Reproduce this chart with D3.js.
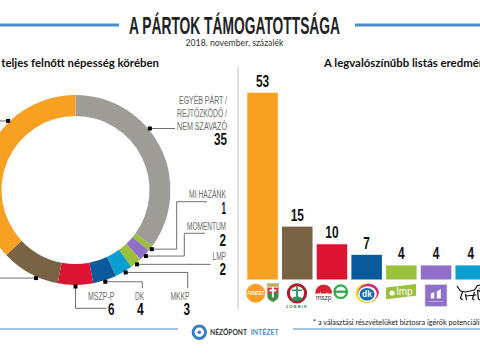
<!DOCTYPE html>
<html lang="hu">
<head>
<meta charset="utf-8">
<script src="https://cdnjs.cloudflare.com/ajax/libs/d3/7.8.5/d3.min.js"></script>
<style>
    html, body { margin: 0; padding: 0; background: #fff; overflow: hidden; }
    svg { display: block; }
    .cond { font-family: "Liberation Sans Narrow", "Liberation Sans", sans-serif; }
    .body { font-family: Lato, "Open Sans", sans-serif; }
</style>
</head>
<body>
<svg id="chart" width="480" height="360"></svg>
<script>
// donut: whole adult population
const donutParties = ["EGYÉB", "MI HAZÁNK", "MOMENTUM", "LMP", "MKKP", "DK", "MSZP-P", "JOBBIK", "FIDESZ"];
const donutValues = [35, 1, 2, 2, 3, 4, 6, 10, 37];
const donutColors = ["#9d9c96", "#9bc13c", "#8f6fc9", "#9bc13c", "#0a9ed1", "#0a5a9c", "#dc1432", "#7a6345", "#f7a021"];
// where on the circle (in percent) each leader starts
const leaderAt = [14, 35.5, 37, 39, 41.3, 45, 50, 56.7, 87.7];

// bars: likely list result
const barParties = ["FIDESZ", "JOBBIK", "MSZP-P", "DK", "LMP", "MOMENTUM", "MKKP"];
const barValues = [53, 15, 10, 7, 4, 4, 4];
const barColors = ["#f7a021", "#7a6345", "#dc1432", "#0a5a9c", "#9bc13c", "#8f6fc9", "#0a9ed1"];

const svg = d3.select("#chart");
const blue = "#4a8cc9";

// condensed text squeezed to a known width, the installed narrow font is wider than the original
function fitText(g, str, x, y, w, size, opts = {}) {
    let left = opts.anchor == "middle" ? x - w / 2 : x - w;
    return g.append("text")
        .attr("class", "cond")
        .attr("x", left)
        .attr("y", y)
        .attr("textLength", w)
        .attr("lengthAdjust", "spacingAndGlyphs")
        .attr("font-size", size)
        .attr("font-weight", opts.weight || "normal")
        .attr("fill", opts.fill || "#6a6a68")
        .text(str);
}

// header
svg.append("rect").attr("x", 0).attr("y", 23.5).attr("width", 119).attr("height", 3).attr("fill", blue);
svg.append("rect").attr("x", 355).attr("y", 23.5).attr("width", 125).attr("height", 3).attr("fill", blue);
fitText(svg, "A PÁRTOK TÁMOGATOTTSÁGA", 129 + 211, 33.5, 211, 23, {weight: "bold", fill: "#222"});
svg.append("text").attr("class", "body")
    .attr("x", 234.5).attr("y", 46).attr("text-anchor", "middle")
    .attr("font-size", 8.7).attr("fill", "#333")
    .text("2018. november, százalék");

svg.append("text").attr("class", "body")
    .attr("x", 159).attr("y", 67).attr("text-anchor", "end")
    .attr("font-size", 11.4).attr("font-weight", "bold").attr("fill", "#111")
    .text("A teljes felnőtt népesség körében");
svg.append("text").attr("class", "body")
    .attr("x", 324).attr("y", 67)
    .attr("font-size", 11.4).attr("font-weight", "bold").attr("fill", "#111")
    .text("A legvalószínűbb listás eredmény*");

svg.append("line").attr("x1", 238).attr("x2", 238).attr("y1", 67).attr("y2", 309)
    .attr("stroke", "#c4c4c4").attr("stroke-width", 1);

// donut
const cx = 75.5, cy = 190, outerR = 95, innerR = 74;
const pie = d3.pie().sort(null).value(d => d)(donutValues);
const arc = d3.arc().innerRadius(innerR).outerRadius(outerR);
svg.append("g")
    .attr("transform", `translate(${cx},${cy})`)
    .selectAll("path")
    .data(pie)
    .join("path")
    .attr("d", arc)
    .attr("fill", (d, i) => donutColors[i]);

// leader start points come from the circle, the elbows are only layout
const total = d3.sum(donutValues);
const markerPos = leaderAt.map(p => {
    let a = p / total * 2 * Math.PI;
    return [cx + 96.5 * Math.sin(a), cy - 96.5 * Math.cos(a)];
});
const leaderBends = [
    [[175, null]],
    [[176.7, null], [176.7, 201.7], [207, 201.7]],
    [[184.3, null], [184.3, 233.3], [205, 233.3]],
    [[210.7, null]],
    [[187.7, null], [187.7, 288]],
    [[142.3, null], [142.3, 288]],
    [[null, 308.3], [106.7, 308.3]],
    [[0, null]],
    [[0, null]]
];
const line = d3.line();
const leaders = svg.append("g");
markerPos.forEach((m, i) => {
    let pts = [m].concat(leaderBends[i].map(b => [b[0] == null ? m[0] : b[0], b[1] == null ? m[1] : b[1]]));
    leaders.append("path")
        .attr("d", line(pts))
        .attr("fill", "none")
        .attr("stroke", "#4a4a4a")
        .attr("stroke-width", 0.8);
});
leaders.selectAll("rect")
    .data(markerPos)
    .join("rect")
    .attr("x", d => d[0] - 2)
    .attr("y", d => d[1] - 2)
    .attr("width", 4)
    .attr("height", 4)
    .attr("fill", "#000");

// donut labels
const labels = svg.append("g");
fitText(labels, "EGYÉB PÁRT /", 227, 104, 48, 10);
fitText(labels, "REJTŐZKÖDŐ /", 227, 117, 50, 10);
fitText(labels, "NEM SZAVAZÓ", 227, 130, 50, 10);
fitText(labels, "35", 227, 145, 13, 16, {weight: "bold", fill: "#111"});
fitText(labels, "MI HAZÁNK", 226, 198.3, 37, 10);
fitText(labels, "1", 226, 214.3, 4.5, 16, {weight: "bold", fill: "#111"});
fitText(labels, "MOMENTUM", 226, 230, 39, 10);
fitText(labels, "2", 226, 245.7, 6.5, 16, {weight: "bold", fill: "#111"});
fitText(labels, "LMP", 226, 260, 13.5, 10);
fitText(labels, "2", 226, 274.5, 6.5, 16, {weight: "bold", fill: "#111"});
fitText(labels, "MSZP-P", 114.5, 300, 26.5, 10);
fitText(labels, "6", 114.5, 315, 6.5, 16, {weight: "bold", fill: "#111"});
fitText(labels, "DK", 144, 300, 9, 10);
fitText(labels, "4", 143.7, 315, 6.7, 16, {weight: "bold", fill: "#111"});
fitText(labels, "MKKP", 189.5, 300, 19, 10);
fitText(labels, "3", 190, 315, 6.5, 16, {weight: "bold", fill: "#111"});

// bars
const x = d3.scaleBand().domain(barParties).range([247.3, 486]).paddingInner(0.12).paddingOuter(0);
const y = d3.scaleLinear().domain([0, 53]).range([279.5, 92.7]);

svg.append("g").selectAll("rect")
    .data(barValues)
    .join("rect")
    .attr("x", (d, i) => x(barParties[i]))
    .attr("y", d => y(d))
    .attr("width", x.bandwidth())
    .attr("height", d => y(0) - y(d))
    .attr("fill", (d, i) => barColors[i]);

const barLabels = svg.append("g");
barValues.forEach((d, i) => {
    fitText(barLabels, String(d), x(barParties[i]) + x.bandwidth() / 2, y(d) - 6,
        String(d).length * 6.6, 16, {anchor: "middle", weight: "bold", fill: "#111"});
});

// party logos under the bars, rough redraws placed from the band positions
const logoY = 293.3;
const logos = svg.append("g");
function logoText(g, str, lx, ly, size, fill, opts = {}) {
    g.append("text")
        .attr("x", lx).attr("y", ly)
        .attr("text-anchor", "middle")
        .attr("font-family", "Liberation Sans, sans-serif")
        .attr("font-size", size)
        .attr("font-weight", opts.weight || "bold")
        .attr("font-style", opts.style || "normal")
        .attr("letter-spacing", opts.spacing || 0)
        .attr("fill", fill)
        .text(str);
}

// fidesz + kdnp
let bx = x("FIDESZ");
logos.append("circle").attr("cx", bx + 8.4).attr("cy", logoY).attr("r", 9.5).attr("fill", "#f7a021");
logoText(logos, "FIDESZ", bx + 8.4, logoY + 1.6, 4.6, "#fff", {style: "italic"});
logos.append("path")
    .attr("d", `M${bx + 19.4},283 h12.4 v13 q0,4 -6.2,6.7 q-6.2,-2.7 -6.2,-6.7 z`)
    .attr("fill", "#b9c4a8");
logos.append("path")
    .attr("d", `M${bx + 20.4},288 h10.4 v5 h-10.4 z`).attr("fill", "#c9343a");
logos.append("path")
    .attr("d", `M${bx + 20.4},293 h10.4 v3 q0,3 -5.2,5.5 q-5.2,-2.5 -5.2,-5.5 z`).attr("fill", "#3c8a3f");
logos.append("path")
    .attr("d", `M${bx + 24.6},287 h2 v2.5 h2.5 v2 h-2.5 v6 h-2 v-6 h-2.5 v-2 h2.5 z`).attr("fill", "#fff");
logos.append("rect").attr("x", bx + 21).attr("y", 284).attr("width", 9.2).attr("height", 2.2).attr("fill", "#d9a441");

// jobbik
bx = x("JOBBIK");
const jx = bx + 15;
logos.append("circle").attr("cx", jx).attr("cy", logoY).attr("r", 8.6)
    .attr("fill", "#fff").attr("stroke", "#a81e2a").attr("stroke-width", 3);
logos.append("path")
    .attr("d", `M${jx - 0.9},${logoY - 7} h1.8 v3.2 h4 v1.6 h-4 v9 h-1.8 v-9 h-4 v-1.6 h4 z`)
    .attr("fill", "#2f8f5b");
logos.append("path")
    .attr("d", `M${jx - 6},${logoY + 6} q6,-6 12,0 q-6,4 -12,0 z`).attr("fill", "#2f8f5b");
logoText(logos, "JOBBIK", jx, 307.5, 4.2, "#2f8f5b", {spacing: 1.1});

// mszp + parbeszed
bx = x("MSZP-P");
const mx = bx + 7;
logos.append("g").selectAll("circle")
    .data(d3.range(9))
    .join("circle")
    .attr("cx", i => mx + 6 * Math.cos(Math.PI + i * Math.PI / 8))
    .attr("cy", i => 293 + 6 * Math.sin(Math.PI + i * Math.PI / 8))
    .attr("r", 2.4)
    .attr("fill", "#d9202f");
logos.append("circle").attr("cx", mx).attr("cy", 291).attr("r", 3.5).attr("fill", "#d9202f");
logos.append("rect").attr("x", mx - 8).attr("y", 293.5).attr("width", 16).attr("height", 7).attr("fill", "#fff");
logoText(logos, "mszp", mx, 299.6, 6.5, "#333", {weight: "normal"});
logos.append("circle").attr("cx", bx + 24).attr("cy", 291.7).attr("r", 6.3)
    .attr("fill", "#fff").attr("stroke", "#2fae4a").attr("stroke-width", 2.2);
logos.append("rect").attr("x", bx + 17.5).attr("y", 290.6).attr("width", 13).attr("height", 2.2).attr("fill", "#2f9e44");

// dk
bx = x("DK");
const dx = bx + 15.7;
logos.append("ellipse").attr("cx", dx).attr("cy", logoY).attr("rx", 11.3).attr("ry", 10)
    .attr("fill", "#f3d21f");
logos.append("ellipse").attr("cx", dx + 1.5).attr("cy", logoY - 1).attr("rx", 10.2).attr("ry", 8.6)
    .attr("fill", "#d6257f");
logos.append("ellipse").attr("cx", dx + 0.5).attr("cy", logoY + 0.8).attr("rx", 9.3).attr("ry", 7.8)
    .attr("fill", "#fff");
logos.append("ellipse").attr("cx", dx).attr("cy", logoY + 1).attr("rx", 7.4).attr("ry", 6.3)
    .attr("fill", "#0a6cb0");
logoText(logos, "dk", dx, logoY + 3.6, 8.5, "#fff");

// lmp
bx = x("LMP");
logos.append("path")
    .attr("d", `M${bx},287.5 L${bx + 30},284 V295.7 L${bx},299.3 Z`)
    .attr("fill", "#9bc13c");
logos.append("circle").attr("cx", bx + 6).attr("cy", 293).attr("r", 2.6).attr("fill", "#fff");
logoText(logos, "lmp", bx + 18.5, 294.5, 10, "#fff", {weight: "normal"});

// momentum
bx = x("MOMENTUM");
logos.append("rect").attr("x", bx + 4.2).attr("y", 284.5).attr("width", 22).attr("height", 22)
    .attr("fill", "#8f6fc9").attr("stroke", "#ddd").attr("stroke-width", 0.6);
logos.append("path")
    .attr("d", `M${bx + 10},293.5 l3.5,-1.5 v6.5 h-3.5 z M${bx + 16},291.5 l4,-2.5 v9.5 h-4 z`)
    .attr("fill", "#fff");
logoText(logos, "MOMENTUM", bx + 15.2, 301.5, 2.4, "#fff", {weight: "normal"});

// mkkp dog
bx = x("MKKP");
logos.append("path")
    .attr("d", `M${bx + 1.5},286 L${bx + 5},291 L${bx + 10},292 L${bx + 19},290 L${bx + 22},285.5 L${bx + 28},284.5`)
    .attr("fill", "none").attr("stroke", "#111").attr("stroke-width", 1.2);
logos.append("path")
    .attr("d", `M${bx + 7},292 L${bx + 5},298 L${bx + 7},300 M${bx + 10},294 L${bx + 11},300 M${bx + 19},292 L${bx + 17},299 L${bx + 19},300 M${bx + 22},290 L${bx + 23},299 L${bx + 25},300 M${bx + 10},296 L${bx + 21},295 M${bx + 22},290 L${bx + 28},293`)
    .attr("fill", "none").attr("stroke", "#111").attr("stroke-width", 1.2);
logos.append("circle").attr("cx", bx + 25.5).attr("cy", 288.5).attr("r", 1.5).attr("fill", "#d9202f");

// footer
svg.append("line").attr("x1", 0).attr("x2", 178).attr("y1", 329).attr("y2", 329).attr("stroke", blue).attr("stroke-width", 1);
svg.append("line").attr("x1", 293).attr("x2", 480).attr("y1", 329).attr("y2", 329).attr("stroke", blue).attr("stroke-width", 1);
svg.append("text").attr("class", "body")
    .attr("x", 313).attr("y", 325)
    .attr("font-size", 7.3).attr("fill", "#222")
    .text("* a választási részvételüket biztosra ígérők potenciális szavazói körében");

svg.append("circle").attr("cx", 199.3).attr("cy", 332.3).attr("r", 6.2)
    .attr("fill", "#fff").attr("stroke", "#3a7fc1").attr("stroke-width", 3);
svg.append("circle").attr("cx", 199.3).attr("cy", 332.3).attr("r", 1.8).attr("fill", "#3a7fc1");
svg.append("text").attr("class", "body")
    .attr("x", 210).attr("y", 335)
    .attr("font-size", 7.8).attr("font-weight", "bold").attr("fill", "#333")
    .attr("textLength", 37).attr("lengthAdjust", "spacingAndGlyphs")
    .text("NÉZŐPONT");
svg.append("text").attr("class", "body")
    .attr("x", 250.7).attr("y", 335)
    .attr("font-size", 7.8).attr("font-weight", "bold").attr("fill", blue)
    .attr("textLength", 28).attr("lengthAdjust", "spacingAndGlyphs")
    .text("INTÉZET");
</script>
</body>
</html>
